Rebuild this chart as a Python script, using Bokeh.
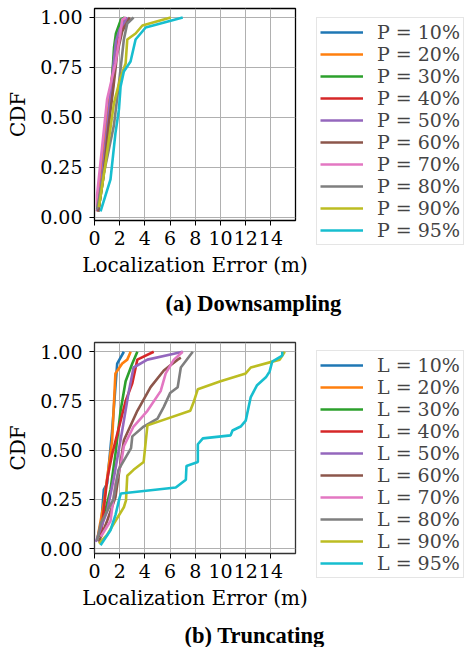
from bokeh.plotting import figure
from bokeh.models import Legend, LegendItem, FixedTicker, Title, Range1d
from bokeh.layouts import column
from bokeh.embed import file_html
from bokeh.resources import INLINE

colors = ["#1f77b4", "#ff7f0e", "#2ca02c", "#d62728", "#9467bd",
          "#8c564b", "#e377c2", "#7f7f7f", "#bcbd22", "#17becf"]
pct_labels = ["10%", "20%", "30%", "40%", "50%", "60%", "70%", "80%", "90%", "95%"]

x_ticks = [0, 2, 4, 6, 8, 10, 12, 14]
y_ticks = [0, 0.25, 0.5, 0.75, 1.0]
y_tick_labels = ["0.00", "0.25", "0.50", "0.75", "1.00"]

# (a) Downsampling
ds_p10_err = [0.3, 0.6, 0.7, 1.0, 1.4, 1.7, 2.0, 2.3]
ds_p10_cdf = [0.03, 0.2, 0.37, 0.45, 0.65, 0.85, 0.95, 1.0]
ds_p20_err = [0.2, 0.5, 0.9, 1.3, 1.6, 2.0, 2.5]
ds_p20_cdf = [0.03, 0.25, 0.45, 0.65, 0.83, 0.93, 1.0]
ds_p30_err = [0.3, 0.7, 1.1, 1.4, 1.55, 1.7, 2.1, 2.4]
ds_p30_cdf = [0.03, 0.2, 0.45, 0.7, 0.85, 0.92, 0.99, 1.0]
ds_p40_err = [0.3, 0.6, 1.0, 1.4, 1.7, 2.0, 2.5]
ds_p40_cdf = [0.03, 0.18, 0.42, 0.62, 0.8, 0.92, 1.0]
ds_p50_err = [0.2, 0.6, 1.0, 1.4, 1.7, 2.0, 2.6]
ds_p50_cdf = [0.03, 0.2, 0.45, 0.7, 0.88, 0.94, 1.0]
ds_p60_err = [0.3, 0.7, 1.1, 1.5, 1.8, 2.2, 2.8]
ds_p60_cdf = [0.03, 0.2, 0.45, 0.65, 0.82, 0.93, 1.0]
ds_p70_err = [0.2, 0.2, 0.6, 1.0, 1.4, 1.66, 2.0, 2.2, 2.5]
ds_p70_cdf = [0.05, 0.11, 0.35, 0.59, 0.7, 0.77, 0.9, 0.99, 1.0]
ds_p80_err = [0.2, 0.74, 1.54, 1.94, 2.33, 2.6, 3.1]
ds_p80_cdf = [0.04, 0.22, 0.46, 0.67, 0.89, 0.97, 1.0]
ds_p90_err = [0.35, 0.88, 1.54, 2.07, 2.47, 2.6, 3.26, 3.8, 6.05]
ds_p90_cdf = [0.05, 0.27, 0.57, 0.7, 0.77, 0.89, 0.92, 0.96, 1.0]
ds_p95_err = [0.48, 1.27, 1.66, 1.94, 2.07, 2.33, 2.86, 3.26, 4.06, 7.0]
ds_p95_cdf = [0.03, 0.19, 0.42, 0.54, 0.655, 0.73, 0.78, 0.89, 0.95, 1.0]

# (b) Truncating
tr_l10_err = [0.48, 0.74, 1.0, 1.4, 1.8, 2.33]
tr_l10_cdf = [0.08, 0.3, 0.33, 0.6, 0.94, 1.0]
tr_l20_err = [0.2, 0.74, 1.4, 1.66, 2.2, 2.6, 2.87]
tr_l20_cdf = [0.04, 0.23, 0.55, 0.89, 0.94, 0.96, 1.0]
tr_l30_err = [0.35, 1.27, 1.66, 2.07, 2.47, 3.0, 3.4]
tr_l30_cdf = [0.06, 0.3, 0.48, 0.7, 0.85, 0.94, 1.0]
tr_l40_err = [0.5, 1.0, 1.4, 1.8, 2.47, 3.0, 3.4, 4.7]
tr_l40_cdf = [0.06, 0.35, 0.48, 0.58, 0.75, 0.84, 0.96, 1.0]
tr_l50_err = [0.1, 1.0, 1.54, 2.2, 2.7, 3.1, 4.2, 6.3, 7.0]
tr_l50_cdf = [0.034, 0.19, 0.36, 0.6, 0.79, 0.92, 0.96, 0.99, 1.0]
tr_l60_err = [0.35, 1.0, 1.66, 2.33, 3.4, 4.45, 5.5, 6.6, 6.85]
tr_l60_cdf = [0.034, 0.14, 0.26, 0.55, 0.7, 0.82, 0.905, 0.96, 0.97]
tr_l70_err = [0.5, 1.27, 1.66, 2.1, 2.33, 3.1, 4.2, 5.25, 5.65, 6.3, 7.0]
tr_l70_cdf = [0.06, 0.14, 0.33, 0.43, 0.52, 0.62, 0.7, 0.8, 0.89, 0.96, 1.0]
tr_l80_err = [0.2, 0.5, 1.5, 1.9, 2.9, 3.0, 3.9, 5.0, 5.5, 6.0, 6.6, 6.85, 7.8]
tr_l80_cdf = [0.04, 0.13, 0.25, 0.4, 0.51, 0.57, 0.62, 0.66, 0.72, 0.79, 0.82, 0.92, 1.0]
tr_l90_err = [0.35, 1.0, 1.66, 2.33, 2.5, 2.6, 3.1, 3.9, 4.2, 7.6, 7.9, 8.2, 10.0, 12.0, 12.4, 14.7, 15.1]
tr_l90_cdf = [0.025, 0.07, 0.14, 0.21, 0.245, 0.37, 0.4, 0.44, 0.626, 0.7, 0.75, 0.81, 0.85, 0.89, 0.92, 0.96, 1.0]
tr_l95_err = [0.48, 1.27, 1.66, 2.0, 2.1, 6.45, 7.25, 7.3, 8.2, 8.2, 8.6, 10.8, 10.95, 11.6, 12.0,
              12.4, 12.9, 13.6, 13.9, 14.1, 14.9, 14.9]
tr_l95_cdf = [0.017, 0.093, 0.17, 0.26, 0.28, 0.31, 0.35, 0.42, 0.44, 0.53, 0.56, 0.575, 0.6, 0.62, 0.65,
              0.77, 0.83, 0.87, 0.9, 0.95, 0.98, 1.0]

down_series = [(ds_p10_err, ds_p10_cdf), (ds_p20_err, ds_p20_cdf), (ds_p30_err, ds_p30_cdf),
               (ds_p40_err, ds_p40_cdf), (ds_p50_err, ds_p50_cdf), (ds_p60_err, ds_p60_cdf),
               (ds_p70_err, ds_p70_cdf), (ds_p80_err, ds_p80_cdf), (ds_p90_err, ds_p90_cdf),
               (ds_p95_err, ds_p95_cdf)]
trunc_series = [(tr_l10_err, tr_l10_cdf), (tr_l20_err, tr_l20_cdf), (tr_l30_err, tr_l30_cdf),
                (tr_l40_err, tr_l40_cdf), (tr_l50_err, tr_l50_cdf), (tr_l60_err, tr_l60_cdf),
                (tr_l70_err, tr_l70_cdf), (tr_l80_err, tr_l80_cdf), (tr_l90_err, tr_l90_cdf),
                (tr_l95_err, tr_l95_cdf)]

FONT = "DejaVu Serif"


def make_fig(series, prefix, y_lo, y_hi, caption, cap_offset, cap_standoff,
             frame_h, top_b, bottom_b, outline):
    p = figure(frame_width=201, frame_height=frame_h,
               x_range=Range1d(0, 15.95), y_range=Range1d(y_lo, y_hi),
               output_backend="svg", toolbar_location=None,
               min_border_left=94, min_border_right=177,
               min_border_top=top_b, min_border_bottom=bottom_b)
    p.outline_line_color = outline
    p.outline_line_width = 1.3
    p.background_fill_color = "white"
    p.border_fill_color = "white"
    items = []
    for (xs, ys), c, lab in zip(series, colors, pct_labels):
        r = p.line(xs, ys, line_color=c, line_width=2.6)
        items.append(LegendItem(label=f"{prefix} = {lab}", renderers=[r]))
    leg = Legend(items=items, location=(21, -25),
                 label_text_font=FONT, label_text_font_size="19px",
                 glyph_width=43, glyph_height=18, label_height=18,
                 label_standoff=14, spacing=0, padding=3, margin=0,
                 border_line_color="#cccccc", border_line_width=1,
                 background_fill_color="white", background_fill_alpha=1)
    p.add_layout(leg, "right")

    p.xaxis.ticker = FixedTicker(ticks=x_ticks)
    p.yaxis.ticker = FixedTicker(ticks=y_ticks)
    p.yaxis.major_label_overrides = {t: l for t, l in zip(y_ticks, y_tick_labels)}
    p.xaxis.axis_label = "Localization Error (m)"
    p.yaxis.axis_label = "CDF"
    for ax in (p.xaxis, p.yaxis):
        ax.axis_line_color = None
        ax.major_tick_in = 0
        ax.major_tick_out = 5
        ax.major_tick_line_color = "black"
        ax.minor_tick_line_color = None
        ax.major_label_text_font = FONT
        ax.major_label_text_font_size = "19px"
        ax.major_label_text_color = "black"
        ax.axis_label_text_font = FONT
        ax.axis_label_text_font_size = "20px"
        ax.axis_label_text_font_style = "normal"
        ax.axis_label_text_color = "black"
    p.xaxis.major_label_standoff = 5
    p.xaxis.axis_label_standoff = 5
    p.yaxis.major_label_standoff = 7
    p.yaxis.axis_label_standoff = 7
    p.grid.grid_line_color = "#b0b0b0"
    p.grid.grid_line_width = 1

    t = Title(text=caption, align="left", offset=cap_offset,
              text_font="Liberation Serif", text_font_size="22.5px",
              text_font_style="bold", text_color="black", standoff=cap_standoff)
    p.add_layout(t, "below")
    return p


p1 = make_fig(down_series, "P", -0.016, 1.045, "(a) Downsampling", 71, 19, 212, 8, 110, "black")
p2 = make_fig(trunc_series, "L", -0.025, 1.047, "(b) Truncating", 90, 16, 211, 12, 94, "#333333")

layout = column(p1, p2, spacing=0)
open("out.html", "w").write(file_html(layout, INLINE))
